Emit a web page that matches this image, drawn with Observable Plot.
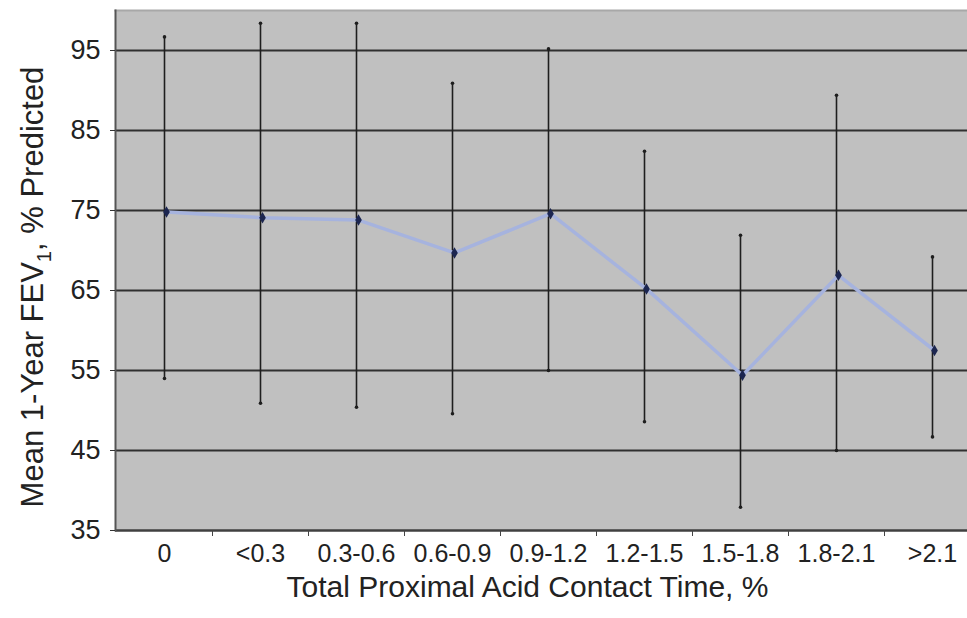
<!DOCTYPE html>
<html>
<head>
<meta charset="utf-8">
<script src="https://cdn.jsdelivr.net/npm/d3@7"></script>
<script src="https://cdn.jsdelivr.net/npm/@observablehq/plot@0.6"></script>
<style>
  html, body { margin: 0; padding: 0; background: #fff; }
  #chart svg { display: block; }
</style>
</head>
<body>
<div id="chart"></div>
<script>
const categories = ["0", "<0.3", "0.3-0.6", "0.6-0.9", "0.9-1.2", "1.2-1.5", "1.5-1.8", "1.8-2.1", ">2.1"];
const means = [74.8, 74.1, 73.8, 69.7, 74.6, 65.2, 54.4, 66.9, 57.5];
const upper = [96.7, 98.4, 98.4, 90.9, 95.2, 82.4, 71.9, 89.4, 69.2];
const lower = [54.0, 50.9, 50.4, 49.6, 55.0, 48.6, 37.9, 45.0, 46.7];
const yTicks = [35, 45, 55, 65, 75, 85, 95];
const gridValues = [45, 55, 65, 75, 85, 95];
const xTitle = "Total Proximal Acid Contact Time, %";

const data = categories.map((c, i) => ({cat: c, mean: means[i], hi: upper[i], lo: lower[i]}));

const W = 967, H = 618;
const font = "'Liberation Sans', Arial, sans-serif";

const chart = Plot.plot({
  width: W,
  height: H,
  marginLeft: 115,
  marginRight: 0,
  marginTop: 10,
  marginBottom: 88,
  style: {fontFamily: font, color: "#222", background: "#fff"},
  x: {type: "band", domain: categories, range: [115, 981], padding: 0},
  y: {domain: [35, 100], range: [530, 10]},
  marks: [
    Plot.frame({fill: "#c0c0c0", stroke: null}),
    Plot.frame({anchor: "top", stroke: "#a8a8a8", strokeWidth: 2}),
    Plot.ruleY(gridValues, {stroke: "#303030", strokeWidth: 2}),
    Plot.ruleY([35], {stroke: "#404040", strokeWidth: 2.5}),
    Plot.frame({anchor: "left", stroke: "#555", strokeWidth: 2}),
    Plot.ruleX(data, {x: "cat", y1: "lo", y2: "hi", stroke: "#1e1e1e", strokeWidth: 1.6}),
    Plot.dot(data, {x: "cat", y: "hi", r: 1.8, fill: "#1e1e1e", stroke: null}),
    Plot.dot(data, {x: "cat", y: "lo", r: 1.8, fill: "#1e1e1e", stroke: null}),
    Plot.line(data, {x: "cat", y: "mean", stroke: "#a6b3de", strokeWidth: 3.5, dx: 2}),
    Plot.dot(data, {x: "cat", y: "mean", symbol: "diamond", r: 3.5, fill: "#1c2650", stroke: null, dx: 2}),
    Plot.axisY({ticks: yTicks, tickSize: 5, tickPadding: 10, fontSize: 27, label: null, stroke: "#333"}),
    Plot.axisX({ticks: categories.slice(1), text: null, tickSize: 6, dx: -48, stroke: "#444", label: null}),
    Plot.axisX({tickSize: 0, tickPadding: 14, fontSize: 25, label: null}),
    Plot.text([xTitle], {frameAnchor: "bottom", x: null, dy: 66, dx: -14, fontSize: 30, fill: "#222"})
  ]
});

document.getElementById("chart").appendChild(chart);

// rotated y-axis title with subscript
const svg = d3.select(chart);
const t = svg.append("text")
  .attr("transform", "translate(43,287) rotate(-90)")
  .attr("text-anchor", "middle")
  .attr("font-family", font)
  .attr("font-size", 31)
  .attr("fill", "#222");
t.append("tspan").text("Mean 1-Year FEV");
t.append("tspan").attr("font-size", 20).attr("dy", 8).text("1");
t.append("tspan").attr("dy", -8).text(", % Predicted");
</script>
</body>
</html>
